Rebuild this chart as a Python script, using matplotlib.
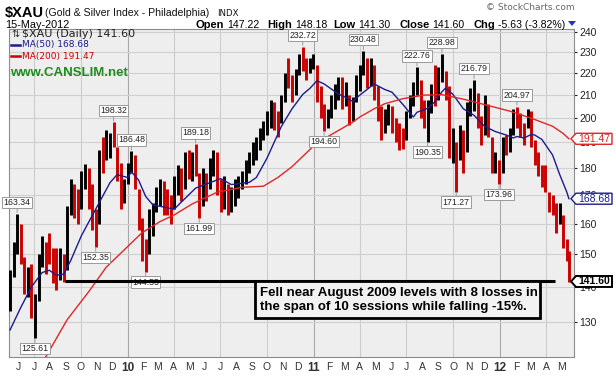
import matplotlib
matplotlib.use("Agg")
import matplotlib.pyplot as plt
from matplotlib.patches import Polygon, Rectangle
from matplotlib.lines import Line2D
from matplotlib.transforms import IdentityTransform
import pandas as pd

W, H = 616, 392

# weekly bars, weeks ending on Fridays from 15-May-2009; last entry is 15-May-2012
highs = [145, 154, 163.34, 160, 149, 146, 147, 138, 150, 156,
         154, 157, 152, 152, 152, 150, 166, 176, 174, 172,
         179, 181.5, 180, 174, 165, 187, 192, 195, 194, 198.32,
         188, 182, 176, 182, 186.48, 185, 172, 162, 155, 165,
         167, 173, 176, 175, 172, 170, 177, 181, 180, 186,
         187, 186, 189.18, 178, 180, 178, 184, 187, 186, 176,
         177, 174, 173, 176, 177, 179, 183, 186, 190, 192,
         196, 199, 203, 208, 207, 203, 210, 220, 227, 219,
         222, 229, 232.72, 227, 227, 229, 224, 214, 206, 204,
         210, 215, 218, 218, 216, 210, 209, 219, 224, 230.48,
         227, 227, 224, 214, 205, 204, 206, 205, 200, 198,
         196, 203, 210, 216, 222.76, 217, 208, 208, 215, 224,
         223, 228.98, 221, 214, 196, 190, 197, 195, 207, 213,
         216.79, 211, 201, 210, 206, 192, 186, 183, 192, 193,
         196, 204, 204.97, 202, 198, 204, 203, 191, 186, 181,
         181, 171, 170, 167, 167, 163, 155, 151]
lows = [133, 143, 150, 147, 138, 137, 131, 125.61, 136, 146,
        144, 147, 141, 139, 142, 141.5, 145, 163, 162, 160,
        165, 172, 165, 158, 152.35, 160, 178, 183, 184, 188,
        175, 165, 167, 174, 178, 172, 158, 148, 144.55, 150,
        156, 164, 166, 163, 163, 160, 165, 170, 168, 172,
        176, 175, 177, 161.99, 166, 168, 172, 177, 170, 164,
        165, 163, 164, 166, 169, 172, 174, 178, 181, 183,
        187, 191, 193, 196, 195, 192, 198, 207, 213, 207,
        210, 219, 221, 217, 220, 222, 207, 200, 194.6, 196,
        200, 204, 208, 204, 205, 197, 199, 207, 212, 219,
        213, 214, 208, 199, 191, 194, 197, 194, 190, 187,
        187.5, 191, 200, 205, 210, 200, 196, 190.35, 202, 205,
        208, 216, 208, 184, 182, 171.27, 183, 178, 186, 201,
        203, 196, 189, 193, 192, 178, 178, 173.96, 178, 185,
        186, 193, 196, 192, 189, 196, 188, 181, 177, 173,
        171, 164, 163, 157, 160, 152, 148, 141.3]
closes = [142, 152, 158, 150, 141, 143, 134, 135, 148, 152,
          150, 149, 148, 145, 149, 146, 164, 170, 165, 163,
          176, 178, 168, 162, 158, 185, 182, 192, 192, 190,
          177, 170, 173, 180, 183, 175, 160, 151, 148, 160,
          162, 170, 172, 168, 166, 164, 175, 178, 173, 184,
          182, 184, 181, 170, 174, 172, 182, 183, 174, 167,
          170, 166, 169, 172, 174, 176, 181, 183, 188, 189,
          194, 197, 200, 205, 199, 198, 208, 218, 216, 212,
          218, 227, 224, 222, 225, 227, 211, 206, 199, 201,
          207, 212, 214, 209, 212, 200, 206, 216, 220, 226,
          218, 223, 212, 204, 196, 200, 203, 198, 193, 191,
          190, 201, 207, 213, 216, 204, 199, 205, 212, 210,
          220, 220, 215, 188, 189, 185, 194, 183, 205, 208,
          210, 198, 193, 206, 196, 181, 184, 177, 189, 188,
          193, 202, 200, 196, 194, 201, 190, 186, 179, 177,
          174, 166, 165, 162, 164, 154, 151, 141.6]

ma50_weeks = [0, 3, 6, 9, 11, 13, 15, 17, 20, 24,
              28, 30, 33, 34, 36, 38, 40, 44, 46, 48,
              52, 55, 59, 62, 67, 69, 72, 76, 79, 82,
              84, 86, 88, 92, 94, 96, 98, 102, 105, 107,
              110, 113, 114, 117, 119, 121, 122, 124, 127, 130,
              133, 136, 139, 141, 142, 144, 146, 147, 149, 152,
              154, 156, 157]
ma50 = [127.8, 134, 140, 144.3, 145, 143.5, 143.8, 148, 156, 165,
        174.5, 177.5, 176.4, 178.6, 175.5, 169.5, 166.5, 165.5, 165, 167.5,
        172.5, 174, 176, 173.8, 174.6, 176.4, 183.8, 196.5, 204, 210.3,
        213, 216.5, 215, 210.5, 209, 207.2, 210, 215, 212.5, 211.3,
        206, 200.5, 202.5, 204.2, 207, 211.5, 213.1, 210.5, 204, 201.2,
        196.5, 194.4, 193, 191.8, 192.4, 191.8, 193.2, 193, 191.2, 185,
        177.5, 171, 168.68]

ma200_weeks = [10, 16, 22, 27, 33, 37, 42, 46, 51, 53,
               58, 65, 71, 75, 79, 85, 88, 91, 96, 98,
               102, 105, 110, 116, 121, 127, 130, 135, 140, 146,
               152, 155, 157]
ma200 = [120.7, 130.6, 138.5, 146, 152.5, 157, 160.7, 163, 166.8, 168,
         171, 172.8, 173.2, 176.4, 180.5, 188.5, 191.5, 194, 198.3, 200.5,
         204, 206.2, 208.4, 210, 210.2, 208.2, 207, 205, 203, 200,
         196.6, 193.6, 191.47]

pivot_highs = [2, 29, 34, 52, 82, 99, 114, 121, 130, 142]
pivot_lows = [7, 24, 38, 53, 88, 117, 125, 137]

support_level = 141.60
quote_labels = ["Open", "High", "Low", "Close", "Chg"]
quote_values = ["147.22", "148.18", "141.30", "141.60", "-5.63 (-3.82%)"]
note = ("Fell near August 2009 levels with 8 losses in\n"
        "the span of 10 sessions while falling -15%.")

dates = pd.date_range("2009-05-15", periods=157, freq="7D").append(
    pd.DatetimeIndex(["2012-05-15"]))
months = pd.date_range("2009-06-01", "2012-05-01", freq="MS")

RED = "#CC0000"
NAVY = "#1C1C8C"
MA_RED = "#E02626"
ARIAL = "Liberation Sans"


def fx(x):
    return x / W


def fy(y):
    return 1 - y / H


fig = plt.figure(figsize=(W / 100, H / 100), dpi=100)
ax = fig.add_axes([fx(8.5), fy(357), (574 - 8.5) / W, (357 - 29) / H])
ax.set_facecolor("#EEEEEE")

colors = ["black"] + [RED if c < p else "black" for p, c in zip(closes[:-1], closes[1:])]
ax.vlines(dates, lows, highs, colors=colors, lw=2.1, zorder=3)
ax.plot(dates[ma50_weeks], ma50, color=NAVY, lw=1.0, zorder=4)
ax.plot(dates[ma200_weeks], ma200, color=MA_RED, lw=1.0, zorder=4)

ax.set_yscale("log")
ax.set_ylim(120.7, 241.5)
ax.set_xlim(pd.Timestamp("2009-05-12"), pd.Timestamp("2012-05-25"))

yt = list(range(130, 241, 10))
ax.set_yticks(yt)
ax.set_yticklabels([str(v) for v in yt])
ax.yaxis.set_minor_locator(matplotlib.ticker.NullLocator())
ax.yaxis.tick_right()
ax.tick_params(axis="y", length=2.5, width=0.8, pad=1.5, labelsize=7.5,
               colors="#222222", labelfontfamily=ARIAL)
ax.grid(axis="y", color="#D0D0D0", lw=0.8)
ax.set_axisbelow(True)

ax.set_xticks(months)
ax.set_xticklabels([m.strftime("%y") if m.month == 1 else m.strftime("%b")[0]
                    for m in months])
ax.tick_params(axis="x", length=0, pad=3.5, labelsize=7.5, colors="#333333",
               labelfontfamily=ARIAL)
for m, lab in zip(months, ax.get_xticklabels()):
    if m.month == 1:
        lab.set_fontweight("bold")
        lab.set_fontsize(8.5)
for m in months:
    if m.month in (1, 4, 7, 10):
        ax.axvline(m, color="#A8A8A8" if m.month == 1 else "#CCCCCC", lw=0.8, zorder=0.5)

for sp in ax.spines.values():
    sp.set_color("#8C8C8C")
    sp.set_linewidth(0.8)

# pivot labels
box = dict(boxstyle="square,pad=0.15", fc="white", ec="#9A9A9A", lw=0.7)
arr = dict(arrowstyle="-", color="#9A9A9A", lw=0.7, shrinkA=0, shrinkB=1)
for k in pivot_highs:
    ax.annotate(f"{highs[k]:.2f}", xy=(dates[k], highs[k]), xytext=(0, 11.5),
                textcoords="offset pixels", ha="center", va="center", fontsize=6.3,
                family=ARIAL, color="#222222", bbox=box, arrowprops=arr,
                annotation_clip=False, zorder=6)
for k in pivot_lows:
    ax.annotate(f"{lows[k]:.2f}", xy=(dates[k], lows[k]), xytext=(0, -10.5),
                textcoords="offset pixels", ha="center", va="center", fontsize=6.3,
                family=ARIAL, color="#222222", bbox=box, arrowprops=arr,
                annotation_clip=False, zorder=6)

ax.hlines(support_level, pd.Timestamp("2009-08-31"), pd.Timestamp("2012-04-17"),
          color="black", lw=2.2, zorder=7)

# note box
fig.add_artist(Rectangle((fx(255), fy(318)), (540 - 255) / W, (318 - 281) / H,
                         transform=fig.transFigure, fc="#F2F2F2", ec="black", lw=2.0,
                         zorder=8))
fig.text(fx(260), fy(300), note, ha="left", va="center", fontsize=9.5,
         fontweight="bold", family=ARIAL, linespacing=1.2, zorder=9)

# right-hand value tags (they cover the axis labels underneath, as in the original)
xr = ax.get_xlim()[1]
for val, ec, weight, lw in [(ma200[-1], MA_RED, "normal", 1.0),
                            (ma50[-1], NAVY, "normal", 1.0),
                            (closes[-1], "black", "bold", 1.4)]:
    yd = ax.transData.transform((xr, val))[1]
    pts = [(571, yd), (576, yd + 5.5), (612, yd + 5.5), (612, yd - 5.5), (576, yd - 5.5)]
    fig.add_artist(Polygon(pts, closed=True, fc="white", ec=ec, lw=lw,
                           transform=IdentityTransform(), zorder=8))
    fig.text(594, yd, f"{val:.2f}", transform=IdentityTransform(), ha="center",
             va="center", fontsize=7.5, family=ARIAL, fontweight=weight,
             color=ec, zorder=9)

# legend block inside the plot
fig.text(fx(11), fy(34), "\u21c5", fontsize=7, va="center", color="#333333")
fig.text(fx(22), fy(34), "$XAU (Daily) 141.60", fontsize=8, va="center", color="#222222")
for y, txt, c in [(45, "MA(50) 168.68", NAVY), (56, "MA(200) 191.47", RED)]:
    fig.add_artist(Line2D([fx(11), fx(20)], [fy(y), fy(y)], transform=fig.transFigure,
                          color=c, lw=1.8))
    fig.text(fx(21.5), fy(y), txt, fontsize=6.5, va="center", color=c)
fig.text(fx(10.5), fy(73), "www.CANSLIM.net", fontsize=9.5, fontweight="bold",
         family=ARIAL, va="center", color="#1E8C1E")

# header
fig.text(fx(5), fy(13), "$XAU", fontsize=10.5, fontweight="bold", family=ARIAL,
         va="center", color="black")
fig.text(fx(45), fy(13), "(Gold & Silver Index - Philadelphia)", fontsize=7.6,
         family=ARIAL, va="center", color="#111111")
fig.text(fx(217), fy(13.5), "INDX", fontsize=6.2, family="DejaVu Sans", va="center",
         color="#111111")
fig.text(fx(575), fy(8), "\u00a9 StockCharts.com", fontsize=6.5, ha="right",
         va="center", color="#666666")
fig.text(fx(5), fy(25), "15-May-2012", fontsize=7.8, family=ARIAL, va="center")

r = fig.canvas.get_renderer()
for x, label, val in zip([196, 267, 333, 399, 473], quote_labels, quote_values):
    t = fig.text(fx(x), fy(25), label, fontsize=8, fontweight="bold", family=ARIAL,
                 va="center")
    xv = x + t.get_window_extent(r).width + 3
    fig.text(fx(xv), fy(25), val, fontsize=7.6, family=ARIAL, va="center")
fig.add_artist(Polygon([(fx(568), fy(21)), (fx(576), fy(21)), (fx(572), fy(26))],
                       closed=True, fc="#2233CC", ec="none", transform=fig.transFigure))

fig.savefig("out.png", dpi=100)
